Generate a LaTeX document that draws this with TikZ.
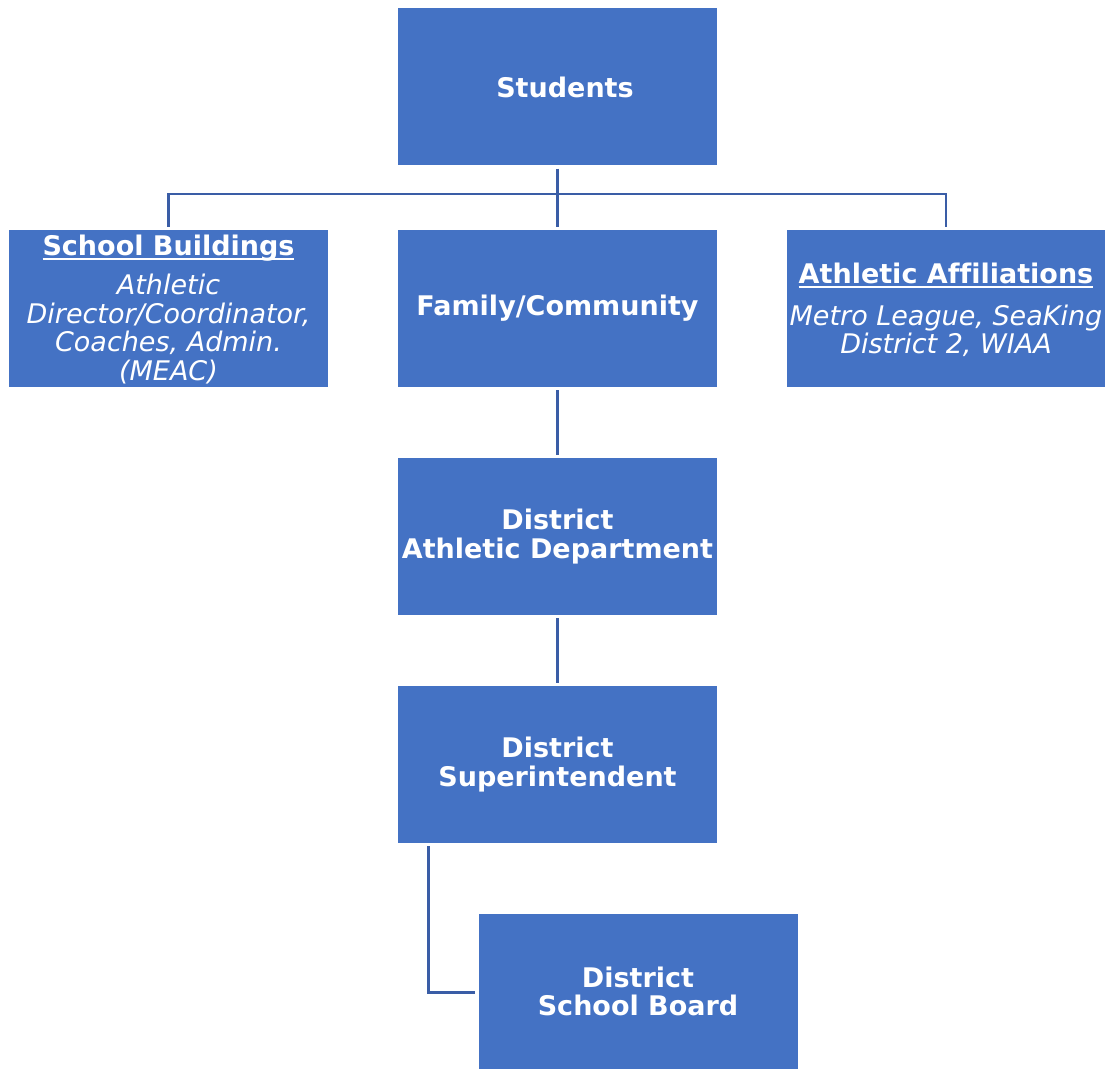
\documentclass[tikz,border=0pt]{standalone}
\usepackage{fontspec}
\setmainfont{DejaVu Sans}[Ligatures=CommonOff]
\definecolor{boxblue}{HTML}{4472C4}
\definecolor{linkblue}{HTML}{3A5DA6}
\newsavebox\ulsavebox
\newcommand\thickul[1]{\sbox\ulsavebox{#1}\rlap{\rule[-4.5pt]{\wd\ulsavebox}{2pt}}\usebox\ulsavebox}
\begin{document}
\begin{tikzpicture}[x=1pt,y=1pt,
  orgbox/.style={rectangle, fill=boxblue, draw=none, minimum width=319pt, minimum height=157pt, inner sep=0pt},
  lbl/.style={text=white, align=center, inner sep=0pt, font=\fontsize{27}{28.5}\selectfont\bfseries},
  conn/.style={draw=linkblue, line width=2.8pt}]
\useasboundingbox (0,0) rectangle (1105,1068);
\begin{scope}
\clip (0,0) rectangle (1105,1068);
\node[orgbox] (stu) at (557.5,981) {};
\node[orgbox] (sb) at (168.5,759.5) {};
\node[orgbox] (fam) at (557.5,759.5) {};
\node[orgbox, minimum width=318pt] (aa) at (946,759.5) {};
\node[orgbox] (ad) at (557.5,531.5) {};
\node[orgbox] (sup) at (557.5,303.5) {};
\node[orgbox] (board) at (638,75.5) {};
\end{scope}
\node[lbl] (tstu) at (565,981) {Students};
\node[lbl] (tsb) at (168.5,758.5) {\thickul{School Buildings}\\[11pt]
  {\mdseries\itshape Athletic}\\ {\mdseries\itshape Director/Coordinator,}\\ {\mdseries\itshape Coaches, Admin.}\\ {\mdseries\itshape (MEAC)}};
\node[lbl] (tfam) at (fam.center) {Family/Community};
\node[lbl] (taa) at (946,758) {\thickul{Athletic Affiliations}\\[13pt]
  {\mdseries\itshape Metro League, SeaKing}\\ {\mdseries\itshape District 2, WIAA}};
\node[lbl] (tad) at (ad.center) {District\\Athletic Department};
\node[lbl] (tsup) at (sup.center) {District\\Superintendent};
\node[lbl] (tboard) at (638,76.5) {District\\School Board};
\draw[conn] ([yshift=-3pt]stu.south) -- ([yshift=3pt]fam.north);
\coordinate (busl) at (168.5,874);
\coordinate (busr) at (946,874);
\draw[conn] ([yshift=3pt]sb.north) -- (busl) -- (busr) -- ([yshift=3pt]aa.north);
\draw[conn] ([yshift=-3pt]fam.south) -- ([yshift=3pt]ad.north);
\draw[conn] ([yshift=-3pt]ad.south) -- ([yshift=3pt]sup.north);
\draw[conn] ([xshift=31pt,yshift=-3pt]sup.south west) |- ([xshift=-3pt]board.west);
\end{tikzpicture}
\end{document}
